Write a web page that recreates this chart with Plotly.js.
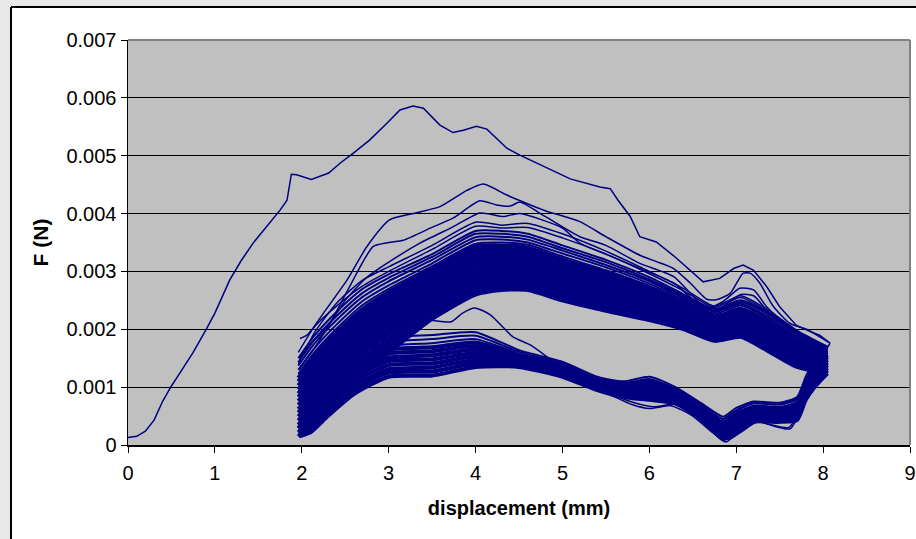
<!DOCTYPE html>
<html>
<head>
<meta charset="utf-8">
<script src="https://cdn.plot.ly/plotly-3.0.1.min.js"></script>
<style>html,body{margin:0;padding:0;background:#fff;}#chart{width:916px;height:539px;}</style>
</head>
<body>
<div id="chart"></div>
<script>
// ---------- axis ticks ----------
const xTickVals = [0,1,2,3,4,5,6,7,8,9];
const yTickVals = [0,0.001,0.002,0.003,0.004,0.005,0.006,0.007];
const yTickText = ['0','0.001','0.002','0.003','0.004','0.005','0.006','0.007'];

// ---------- first (virgin) loading and its unloading ----------
const virginLoadX = [0,0.1,0.2,0.3,0.4,0.5,0.6,0.75,0.9,1.0,1.17,1.3,1.44,1.6,1.75,1.83,1.86,1.88,1.94,2.11,2.31,2.44,2.59,2.78,2.98,3.13,3.28,3.4,3.59,3.74,3.86,4.01,4.13,4.36,4.51,4.8,5.09,5.43,5.55,5.64,5.78,5.89,6.08,6.28,6.47,6.62,6.81,6.97,7.08,7.2,7.35,7.5,7.69,7.85,7.96,8.04,8.08];
const virginLoadF = [0.00013,0.00015,0.00024,0.00043,0.00076,0.00102,0.00125,0.00160,0.00200,0.00228,0.00285,0.00318,0.00349,0.00378,0.00406,0.00423,0.00455,0.00468,0.00467,0.00459,0.00470,0.00487,0.00504,0.00527,0.00556,0.00579,0.00586,0.00582,0.00553,0.00540,0.00544,0.00551,0.00546,0.00513,0.00501,0.00480,0.00460,0.00446,0.00443,0.00423,0.00395,0.00360,0.00351,0.00327,0.00301,0.00282,0.00288,0.00305,0.00311,0.00302,0.00274,0.00239,0.00207,0.00196,0.00190,0.00181,0.00176];
const virginUnloadX = [8.08,7.98,7.9,7.8,7.7,7.5,7.2,7.0,6.85,6.6,6.3,6.0,5.7,5.45,5.2,4.93,4.63,4.43,4.17,3.99,3.85,3.72,3.4,3.0,2.6,2.3,2.05,1.95];
const virginUnloadF = [0.00176,0.00150,0.00130,0.00105,0.00080,0.00070,0.00072,0.00058,0.00045,0.00065,0.00095,0.00112,0.00105,0.00112,0.00118,0.00141,0.00173,0.00187,0.00225,0.00237,0.00228,0.00213,0.00216,0.00195,0.00155,0.00105,0.00050,0.00030];

// ---------- distinct upper loading curves ----------
const load1X = [1.98,2.06,2.12,2.25,2.52,2.75,3.01,3.28,3.59,3.9,4.09,4.36,4.55,4.8,5.2,5.5,5.89,6.08,6.28,6.47,6.66,6.77,6.93,7.08,7.16,7.27,7.43,7.62,7.81,7.96,8.06];
const load1F = [0.00184,0.00190,0.00200,0.00228,0.00285,0.00343,0.00389,0.00400,0.00412,0.00440,0.00451,0.00432,0.00420,0.00405,0.00386,0.00360,0.00328,0.00317,0.00305,0.00280,0.00252,0.00251,0.00262,0.00297,0.00297,0.00280,0.00239,0.00210,0.00200,0.00187,0.00178];
const load2X = [1.97,2.1,2.3,2.52,2.82,3.0,3.17,3.51,3.74,4.05,4.24,4.4,4.51,4.8,5.2,5.5,5.89,6.28,6.58,6.66,6.85,7.04,7.2,7.35,7.5,7.7,7.9,8.05];
const load2F = [0.00150,0.00175,0.00205,0.00265,0.00343,0.00350,0.00354,0.00377,0.00392,0.00422,0.00415,0.00413,0.00420,0.00395,0.00360,0.00345,0.00314,0.00291,0.00245,0.00236,0.00248,0.00271,0.00268,0.00239,0.00218,0.00195,0.00180,0.00170];
const load3X = [1.97,2.2,2.5,2.75,2.98,3.36,3.74,4.05,4.32,4.51,5.0,5.2,5.5,5.89,6.28,6.6,6.8,7.05,7.2,7.4,7.7,8.05];
const load3F = [0.00130,0.00180,0.00250,0.00290,0.00314,0.00349,0.00377,0.00401,0.00395,0.00400,0.00375,0.00349,0.00330,0.00305,0.00280,0.00240,0.00235,0.00260,0.00258,0.00225,0.00195,0.00165];

// ---------- dense band of loading curves (common displacement grid) ----------
const cycleLoadX = [1.96,2.15,2.4,2.7,3.0,3.5,4.0,4.3,4.6,5.0,5.5,6.0,6.4,6.75,7.05,7.35,7.7,8.05];
const load4F  = [0.00140,0.00195,0.00245,0.00285,0.00308,0.00345,0.00385,0.00380,0.00383,0.00365,0.00335,0.00300,0.00270,0.00240,0.00258,0.00235,0.00198,0.00170];
const load5F  = [0.00160,0.00205,0.00240,0.00275,0.00300,0.00338,0.00378,0.00375,0.00376,0.00358,0.00330,0.00296,0.00266,0.00238,0.00255,0.00232,0.00196,0.00168];
const band01F = [0.00015,0.00045,0.00085,0.00125,0.00160,0.00218,0.00260,0.00268,0.00268,0.00250,0.00232,0.00216,0.00200,0.00180,0.00187,0.00164,0.00135,0.00124];
const band02F = [0.00022,0.00052,0.00092,0.00133,0.00168,0.00225,0.00266,0.00273,0.00273,0.00255,0.00236,0.00220,0.00203,0.00183,0.00190,0.00167,0.00138,0.00126];
const band03F = [0.00029,0.00060,0.00100,0.00141,0.00176,0.00232,0.00271,0.00278,0.00278,0.00260,0.00241,0.00223,0.00206,0.00186,0.00193,0.00171,0.00141,0.00129];
const band04F = [0.00035,0.00067,0.00107,0.00149,0.00184,0.00238,0.00277,0.00283,0.00283,0.00264,0.00245,0.00227,0.00209,0.00188,0.00196,0.00174,0.00144,0.00131];
const band05F = [0.00042,0.00074,0.00114,0.00157,0.00192,0.00244,0.00282,0.00288,0.00287,0.00269,0.00250,0.00231,0.00212,0.00191,0.00200,0.00177,0.00147,0.00133];
const band06F = [0.00049,0.00081,0.00121,0.00165,0.00200,0.00250,0.00288,0.00294,0.00292,0.00274,0.00254,0.00235,0.00215,0.00194,0.00203,0.00181,0.00150,0.00136];
const band07F = [0.00056,0.00089,0.00129,0.00172,0.00207,0.00256,0.00293,0.00299,0.00297,0.00279,0.00258,0.00238,0.00218,0.00197,0.00206,0.00184,0.00153,0.00138];
const band08F = [0.00062,0.00096,0.00136,0.00179,0.00214,0.00262,0.00299,0.00304,0.00302,0.00283,0.00263,0.00242,0.00221,0.00199,0.00209,0.00187,0.00156,0.00140];
const band09F = [0.00069,0.00103,0.00143,0.00186,0.00220,0.00267,0.00304,0.00309,0.00307,0.00288,0.00267,0.00246,0.00224,0.00202,0.00212,0.00190,0.00159,0.00142];
const band10F = [0.00076,0.00110,0.00150,0.00193,0.00226,0.00272,0.00310,0.00314,0.00312,0.00293,0.00272,0.00249,0.00227,0.00205,0.00215,0.00194,0.00162,0.00145];
const band11F = [0.00083,0.00118,0.00158,0.00200,0.00233,0.00278,0.00315,0.00319,0.00317,0.00298,0.00276,0.00253,0.00230,0.00208,0.00219,0.00197,0.00165,0.00147];
const band12F = [0.00089,0.00125,0.00165,0.00207,0.00239,0.00283,0.00321,0.00324,0.00321,0.00302,0.00280,0.00257,0.00233,0.00210,0.00222,0.00200,0.00168,0.00149];
const band13F = [0.00096,0.00132,0.00172,0.00214,0.00245,0.00288,0.00326,0.00329,0.00326,0.00307,0.00285,0.00260,0.00236,0.00213,0.00225,0.00204,0.00171,0.00152];
const band14F = [0.00103,0.00139,0.00179,0.00221,0.00251,0.00293,0.00332,0.00334,0.00331,0.00312,0.00289,0.00264,0.00239,0.00216,0.00228,0.00207,0.00174,0.00154];
const band15F = [0.00110,0.00147,0.00187,0.00228,0.00258,0.00299,0.00337,0.00339,0.00336,0.00317,0.00294,0.00268,0.00242,0.00219,0.00231,0.00210,0.00177,0.00156];
const band16F = [0.00116,0.00154,0.00194,0.00235,0.00264,0.00304,0.00343,0.00345,0.00341,0.00321,0.00298,0.00272,0.00245,0.00221,0.00234,0.00214,0.00180,0.00159];
const band17F = [0.00123,0.00161,0.00201,0.00242,0.00270,0.00309,0.00348,0.00350,0.00346,0.00326,0.00302,0.00275,0.00248,0.00224,0.00237,0.00217,0.00183,0.00161];
const band18F = [0.00130,0.00168,0.00208,0.00249,0.00276,0.00314,0.00354,0.00355,0.00350,0.00331,0.00307,0.00279,0.00251,0.00227,0.00241,0.00220,0.00186,0.00163];
const band19F = [0.00137,0.00176,0.00216,0.00256,0.00283,0.00320,0.00359,0.00360,0.00355,0.00336,0.00311,0.00283,0.00254,0.00230,0.00244,0.00223,0.00189,0.00165];
const band20F = [0.00143,0.00183,0.00223,0.00263,0.00289,0.00325,0.00365,0.00365,0.00360,0.00340,0.00316,0.00286,0.00257,0.00232,0.00247,0.00227,0.00192,0.00168];
const band21F = [0.00150,0.00190,0.00230,0.00270,0.00295,0.00330,0.00370,0.00370,0.00365,0.00345,0.00320,0.00290,0.00260,0.00235,0.00250,0.00230,0.00195,0.00170];

// ---------- dense band of unloading curves ----------
const cycleUnloadX = [8.05,7.9,7.8,7.7,7.5,7.2,7.0,6.85,6.6,6.3,6.0,5.7,5.4,5.0,4.5,4.0,3.5,3.0,2.6,2.3,2.1,1.97];
const unl01F = [0.00124,0.00100,0.00078,0.00043,0.00040,0.00040,0.00020,0.00010,0.00046,0.00072,0.00078,0.00083,0.00095,0.00118,0.00135,0.00135,0.00120,0.00118,0.00088,0.00050,0.00022,0.00015];
const unl02F = [0.00129,0.00105,0.00082,0.00047,0.00043,0.00044,0.00024,0.00014,0.00049,0.00075,0.00082,0.00086,0.00097,0.00121,0.00138,0.00141,0.00127,0.00125,0.00095,0.00055,0.00026,0.00018];
const unl03F = [0.00133,0.00109,0.00086,0.00051,0.00047,0.00047,0.00029,0.00018,0.00051,0.00078,0.00086,0.00088,0.00100,0.00123,0.00141,0.00147,0.00134,0.00131,0.00102,0.00060,0.00031,0.00020];
const unl04F = [0.00138,0.00114,0.00090,0.00055,0.00050,0.00051,0.00033,0.00022,0.00054,0.00080,0.00090,0.00091,0.00102,0.00126,0.00144,0.00153,0.00141,0.00138,0.00109,0.00065,0.00035,0.00023];
const unl05F = [0.00142,0.00119,0.00094,0.00059,0.00053,0.00054,0.00038,0.00026,0.00056,0.00083,0.00094,0.00094,0.00104,0.00128,0.00147,0.00159,0.00148,0.00145,0.00116,0.00070,0.00039,0.00025];
const unl06F = [0.00147,0.00124,0.00098,0.00063,0.00057,0.00058,0.00042,0.00030,0.00059,0.00086,0.00098,0.00097,0.00107,0.00131,0.00150,0.00165,0.00155,0.00151,0.00123,0.00075,0.00044,0.00028];
const unl07F = [0.00152,0.00128,0.00102,0.00067,0.00060,0.00061,0.00046,0.00033,0.00062,0.00089,0.00102,0.00099,0.00109,0.00134,0.00152,0.00171,0.00162,0.00158,0.00130,0.00080,0.00048,0.00030];
const unl08F = [0.00156,0.00133,0.00106,0.00071,0.00063,0.00065,0.00051,0.00037,0.00064,0.00092,0.00106,0.00102,0.00111,0.00136,0.00155,0.00177,0.00169,0.00165,0.00137,0.00085,0.00052,0.00033];
const unl09F = [0.00161,0.00138,0.00110,0.00075,0.00066,0.00068,0.00055,0.00041,0.00067,0.00094,0.00110,0.00105,0.00113,0.00139,0.00158,0.00183,0.00176,0.00171,0.00145,0.00090,0.00056,0.00035];
const unl10F = [0.00165,0.00142,0.00114,0.00079,0.00070,0.00072,0.00060,0.00045,0.00069,0.00097,0.00114,0.00107,0.00116,0.00141,0.00161,0.00189,0.00183,0.00178,0.00153,0.00095,0.00061,0.00038];
const unl11F = [0.00170,0.00147,0.00118,0.00083,0.00073,0.00075,0.00064,0.00049,0.00072,0.00100,0.00118,0.00110,0.00118,0.00144,0.00164,0.00195,0.00190,0.00185,0.00160,0.00100,0.00065,0.00040];

// ---------- distinct low unloading curves ----------
const unlAX = [8.05,7.9,7.75,7.6,7.4,7.2,7.0,6.88,6.7,6.5,6.25,6.0,5.8,5.5,5.2,5.0];
const unlAF = [0.00140,0.00105,0.00060,0.00030,0.00035,0.00042,0.00020,0.00005,0.00025,0.00050,0.00068,0.00063,0.00070,0.00090,0.00105,0.00118];
const unlBX = [8.05,7.92,7.78,7.62,7.45,7.25,7.05,6.92,6.75,6.55,6.3,6.05,5.85,5.6,5.3,5.0];
const unlBF = [0.00155,0.00118,0.00070,0.00028,0.00032,0.00040,0.00022,0.00010,0.00022,0.00046,0.00070,0.00066,0.00072,0.00085,0.00100,0.00120];

// ---------- build traces ----------
const NAVY = '#000080';
const traces = [];
function addLine(x, y, width, shape) {
  traces.push({type:'scatter', mode:'lines', x:x, y:y, hoverinfo:'skip', showlegend:false,
    line:{color:NAVY, width:width, shape:shape || 'spline', smoothing:0.6}});
}
const bandLoads = [band01F,band02F,band03F,band04F,band05F,band06F,band07F,band08F,band09F,band10F,band11F,band12F,band13F,band14F,band15F,band16F,band17F,band18F,band19F,band20F,band21F];
const bandUnloads = [unl01F,unl02F,unl03F,unl04F,unl05F,unl06F,unl07F,unl08F,unl09F,unl10F,unl11F];
bandUnloads.forEach((f, i) => addLine(cycleUnloadX, f, i < 8 ? 4.0 : 2.0));
addLine(unlAX, unlAF, 1.5);
addLine(unlBX, unlBF, 1.5);
bandLoads.forEach((f, i) => addLine(cycleLoadX, f, i < 16 ? 4.0 : 2.0));
addLine(cycleLoadX, load4F, 1.5);
addLine(cycleLoadX, load5F, 1.5);
addLine(load3X, load3F, 1.5);
addLine(load2X, load2F, 1.5);
addLine(load1X, load1F, 1.5);
addLine(virginUnloadX, virginUnloadF, 1.5);
addLine(virginLoadX, virginLoadF, 1.5, 'linear');

// ---------- layout ----------
const W = 916, H = 539, ML = 128, MR = 6, MT = 40, MB = 94;
const PW = W - ML - MR, PH = H - MT - MB;
const px = v => (v - ML) / PW;       // pixel -> paper x
const py = v => (H - MB - v) / PH;   // pixel -> paper y

const layout = {
  width: W, height: H,
  margin: {l: ML, r: MR, t: MT, b: MB},
  paper_bgcolor: '#ffffff',
  plot_bgcolor: '#c0c0c0',
  showlegend: false,
  font: {family: '"Liberation Sans", Arial, sans-serif', color: '#000000', size: 20},
  xaxis: {
    range: [0, 9], tickvals: xTickVals, ticks: 'outside', ticklen: 6, tickwidth: 1, tickcolor: '#000',
    showline: true, linecolor: '#000', linewidth: 1.5, showgrid: false, zeroline: false,
    tickfont: {size: 20}, ticklabelstandoff: 3, fixedrange: true,
    title: {text: '<b>displacement (mm)</b>', font: {size: 20}, standoff: 18}
  },
  yaxis: {
    range: [0, 0.007], tickvals: yTickVals, ticktext: yTickText, ticks: 'outside', ticklen: 6, tickwidth: 1, tickcolor: '#000',
    showline: true, linecolor: '#000', linewidth: 1.5, showgrid: true, gridcolor: '#000', gridwidth: 1, zeroline: false,
    tickfont: {size: 20}, fixedrange: true,
    title: {text: '<b>F (N)</b>', font: {size: 21}, standoff: 12}
  },
  shapes: [
    {type:'rect', xref:'paper', yref:'paper', x0:px(-5), x1:px(10), y0:py(560), y1:py(-5), fillcolor:'#e8e8e8', line:{width:0}, layer:'above'},
    {type:'rect', xref:'paper', yref:'paper', x0:px(-5), x1:px(930), y0:py(6), y1:py(-5), fillcolor:'#e8e8e8', line:{width:0}, layer:'above'},
    {type:'line', xref:'paper', yref:'paper', x0:px(11), x1:px(11), y0:py(7), y1:py(560), line:{color:'#000', width:2}, layer:'above'},
    {type:'line', xref:'paper', yref:'paper', x0:px(11), x1:px(930), y0:py(7), y1:py(7), line:{color:'#000', width:2}, layer:'above'},
    {type:'line', xref:'paper', yref:'paper', x0:0, x1:1, y0:1, y1:1, line:{color:'#808080', width:2}, layer:'above'},
    {type:'line', xref:'paper', yref:'paper', x0:1, x1:1, y0:0, y1:1, line:{color:'#808080', width:2}, layer:'above'}
  ]
};

Plotly.newPlot('chart', traces, layout, {staticPlot: true, displayModeBar: false});
</script>
</body>
</html>
